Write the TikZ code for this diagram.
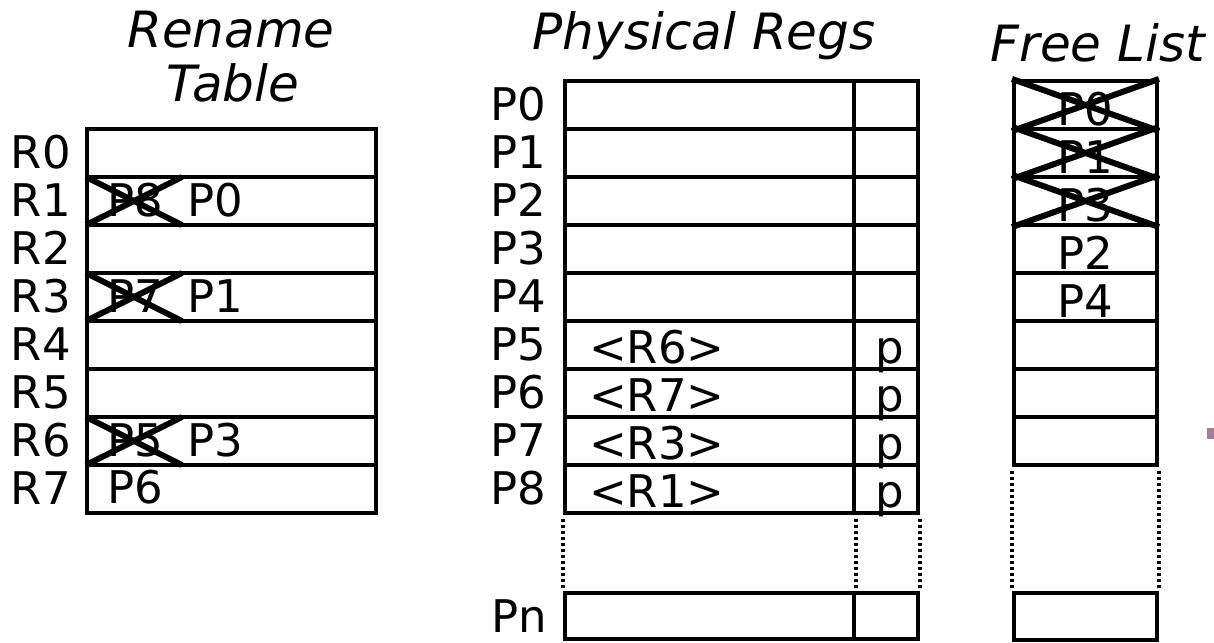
\documentclass[tikz,border=0pt]{standalone}
\usepackage{fontspec}
\setmainfont{DejaVu Sans}
\begin{document}
\begin{tikzpicture}[x=1pt,y=-1pt,
  cell/.style={draw, line width=4pt, rectangle, inner sep=0pt},
  lbl/.style={font=\fontsize{45}{45}\selectfont, inner sep=0pt, anchor=base east},
  val/.style={font=\fontsize{45}{45}\selectfont, inner sep=0pt},
  ttl/.style={font=\fontsize{50}{50}\selectfont\itshape, inner sep=0pt, anchor=base},
  strike/.style={line width=6pt},
  dots/.style={line width=3.5pt, dash pattern=on 3pt off 3pt}]
\useasboundingbox (0,0) rectangle (1214,642);

% titles
\node[ttl] (t1) at (231,48) {Rename};
\node[ttl] (t2) at (233,101) {Table};
\node[ttl] (t3) at (704,50) {Physical Regs};
\node[ttl] (t4) at (1098,62) {Free List};

% rename table
\foreach \i in {0,...,7} {
  \node[cell, minimum width=289pt, minimum height=48pt] (rt\i) at (231.5,{153+48*\i}) {};
  \node[lbl] (rl\i) at (71,{168+48*\i}) {R\i};
}
\node[val, anchor=base west] (rv1a) at (107,216) {P8};
\node[val, anchor=base west] (rv1b) at (187,216) {P0};
\node[val, anchor=base west] (rv3a) at (107,312) {P7};
\node[val, anchor=base west] (rv3b) at (187,312) {P1};
\node[val, anchor=base west] (rv6a) at (107,456) {P5};
\node[val, anchor=base west] (rv6b) at (187,456) {P3};
\node[val, anchor=base west] (rv7) at (107,503) {P6};
\foreach \y in {177,273,417} {
  \draw[strike] (86,\y) -- (182,{\y+48}) (86,{\y+48}) -- (182,\y);
}

% physical regs
\foreach \i in {0,...,8} {
  \node[cell, minimum width=289pt, minimum height=48pt] (pv\i) at (709.5,{105+48*\i}) {};
  \node[cell, minimum width=64pt, minimum height=48pt] (pp\i) at (886,{105+48*\i}) {};
  \node[lbl] (pl\i) at (546,{120+48*\i}) {P\i};
}
\node[cell, minimum width=289pt, minimum height=46pt] (pvn) at (709.5,616) {};
\node[cell, minimum width=64pt, minimum height=46pt] (ppn) at (886,616) {};
\node[lbl] (pln) at (547,632) {Pn};
\foreach \i/\r in {5/R6,6/R7,7/R3,8/R1} {
  \node[val, anchor=base west] (pt\i) at (589,{123+48*\i}) {<\r>};
  \node[val, anchor=base] (pb\i) at (890,{123+48*\i}) {p};
}
\draw[dots, shorten <=4pt, shorten >=3pt] (pv8.south west) -- (pvn.north west);
\draw[dots, shorten <=4pt, shorten >=3pt] (pv8.south east) -- (pvn.north east);
\draw[dots, shorten <=4pt, shorten >=3pt] (pp8.south east) -- (ppn.north east);

% free list
\foreach \i in {0,...,7} {
  \node[cell, minimum width=143pt, minimum height=48pt] (fl\i) at (1085.5,{105+48*\i}) {};
}
\node[cell, minimum width=143pt, minimum height=47pt] (fln) at (1085.5,616.5) {};
\foreach \i/\p in {0/P0,1/P1,2/P3,3/P2,4/P4} {
  \node[val, anchor=base] (ft\i) at (1085.5,{125+48*\i}) {\p};
}
\foreach \i in {0,1,2} {
  \draw[strike] (fl\i.north west) -- (fl\i.south east) (fl\i.south west) -- (fl\i.north east);
}
\draw[dots, shorten <=4pt, shorten >=3pt] (fl7.south west) -- (fln.north west);
\draw[dots, shorten <=4pt, shorten >=3pt] (fl7.south east) -- (fln.north east);

% small mark at right edge
\fill[fill={rgb,255:red,160;green,128;blue,150}] (1207,428) rectangle (1214,439);
\end{tikzpicture}
\end{document}
